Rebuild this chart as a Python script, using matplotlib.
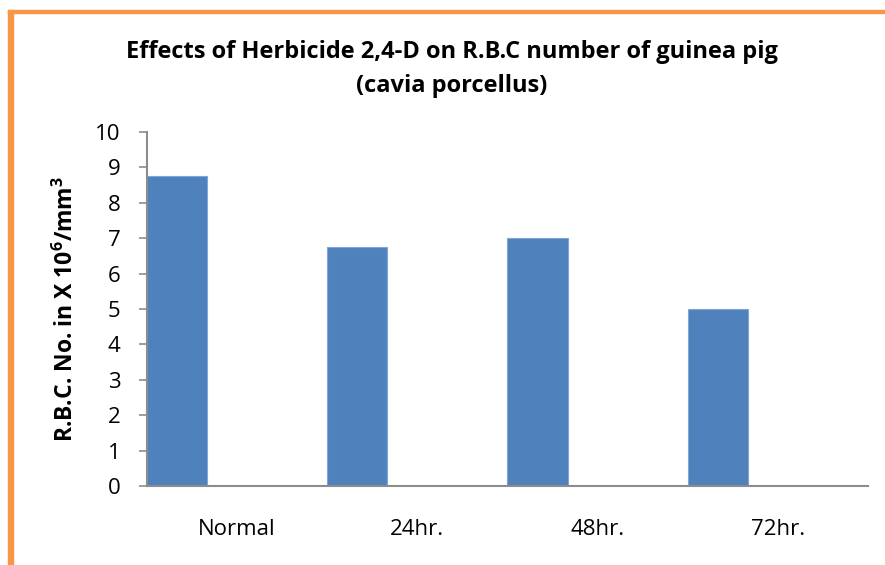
import matplotlib
matplotlib.use('Agg')
import matplotlib.pyplot as plt
import numpy as np
from matplotlib.patches import Rectangle

plt.rcParams['font.family'] = ['Open Sans', 'DejaVu Sans']
plt.rcParams['mathtext.fontset'] = 'custom'
plt.rcParams['mathtext.rm'] = 'Open Sans'
plt.rcParams['mathtext.bf'] = 'Open Sans:bold'

# data
groups = ['Normal', '24hr.', '48hr.', '72hr.']
rbc = [8.75, 6.75, 7.0, 5.0]
yticks = np.arange(0, 11, 1)

W, H = 885, 565
fig = plt.figure(figsize=(W / 100, H / 100), dpi=100)
ax = fig.add_axes([147 / W, 1 - 486 / H, (868 - 147) / W, (486 - 132) / H])

# bars sit in the left third of each category slot
x = np.arange(len(groups))
ax.bar(x + 1 / 6, rbc, width=1 / 3, color='#4F81BD', edgecolor='#7FA6D6', lw=0.8)

ax.set_xlim(0, len(groups))
ax.set_ylim(0, 10)
ax.set_yticks(yticks)
ax.set_yticklabels([str(t) for t in yticks], fontsize=16)
ax.set_xticks(x + 0.5)
ax.set_xticklabels(groups, fontsize=16)
ax.tick_params(axis='x', length=0, pad=24)
ax.tick_params(axis='y', length=6, width=1.2, color='#8c8c8c', pad=13)

for s in ['top', 'right']:
  ax.spines[s].set_visible(False)
for s in ['left', 'bottom']:
  ax.spines[s].set_color('#8c8c8c')
  ax.spines[s].set_linewidth(1.5)

ax.set_ylabel(r'R.B.C. No. in X 10$^{\mathbf{6}}$/mm$^{\mathbf{3}}$', fontsize=16.5,
              fontweight='bold', labelpad=12)

fig.text(452 / W, 1 - 52 / H, 'Effects of Herbicide 2,4-D on R.B.C number of guinea pig',
         ha='center', va='center', fontsize=17, fontweight='bold')
fig.text(452 / W, 1 - 86 / H, '(cavia porcellus)',
         ha='center', va='center', fontsize=17, fontweight='bold')

# orange frame on left and top
fig.patches.append(Rectangle((8 / W, 0), 5 / W, 1 - 10 / H, transform=fig.transFigure,
                             color='#F79646', zorder=5))
fig.patches.append(Rectangle((8 / W, 1 - 13 / H), 1, 3 / H, transform=fig.transFigure,
                             color='#F79646', zorder=5))

fig.savefig('out.png', dpi=100)
